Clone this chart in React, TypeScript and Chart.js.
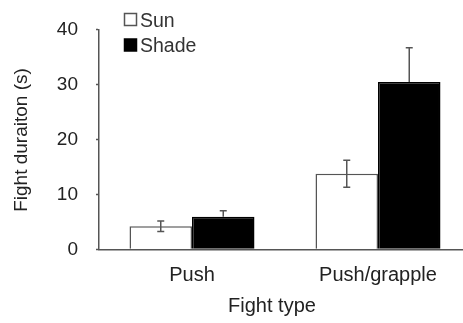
import React, { useEffect, useRef } from "react";
import { Chart, registerables } from "chart.js";

Chart.register(...registerables);

const categories = ["Push", "Push/grapple"];
const seriesNames = ["Sun", "Shade"];
const sunValues = [4.2, 13.75];
const sunErrors = [0.95, 2.45];
const shadeValues = [5.9, 30.45];
const shadeErrors = [1.1, 6.2];
const yTickValues = [0, 10, 20, 30, 40];
const xTitle = "Fight type";
const yTitle = "Fight duraiton (s)";

const FONT = "'Liberation Sans', Arial, Helvetica, sans-serif";
const AXIS_GRAY = "#555555";

const widenXPlugin = {
  id: "widenX",
  afterLayout(chart: any) {
    const x = chart.scales.x;
    x.right = x.left + 372;
    x.width = 372;
    x.configure();
  },
};

const errorBarPlugin = {
  id: "errorBars",
  afterDatasetsDraw(chart: any) {
    const ctx = chart.ctx;
    const y = chart.scales.y;
    chart.data.datasets.forEach((ds: any, di: number) => {
      const meta = chart.getDatasetMeta(di);
      meta.data.forEach((bar: any, i: number) => {
        const v = ds.data[i];
        const e = ds.errors[i];
        const top = y.getPixelForValue(v + e);
        const mid = y.getPixelForValue(v);
        const bot = y.getPixelForValue(v - e);
        const cap = 3.5;
        ctx.save();
        ctx.strokeStyle = AXIS_GRAY;
        ctx.lineWidth = 1.5;
        ctx.beginPath();
        ctx.moveTo(bar.x, mid);
        ctx.lineTo(bar.x, top);
        ctx.moveTo(bar.x - cap, top);
        ctx.lineTo(bar.x + cap, top);
        if (ds.showLowerError) {
          ctx.moveTo(bar.x, mid);
          ctx.lineTo(bar.x, bot);
          ctx.moveTo(bar.x - cap, bot);
          ctx.lineTo(bar.x + cap, bot);
        }
        ctx.stroke();
        ctx.restore();
      });
    });
  },
};

const legendAndTitlesPlugin = {
  id: "legendAndTitles",
  afterDraw(chart: any) {
    const ctx = chart.ctx;
    ctx.save();
    const boxX = 124.5;
    const boxSize = 12;
    const rows = [13.5, 39];
    chart.data.datasets.forEach((ds: any, i: number) => {
      const by = rows[i];
      ctx.fillStyle = ds.backgroundColor;
      ctx.fillRect(boxX, by, boxSize, boxSize);
      ctx.strokeStyle = ds.borderColor;
      ctx.lineWidth = 1.5;
      ctx.strokeRect(boxX, by, boxSize, boxSize);
      ctx.fillStyle = "#333333";
      ctx.font = `19.5px ${FONT}`;
      ctx.textAlign = "left";
      ctx.textBaseline = "alphabetic";
      ctx.fillText(ds.label, 140, by + 13.2);
    });
    ctx.fillStyle = "#222222";
    ctx.font = `20px ${FONT}`;
    ctx.textAlign = "center";
    ctx.textBaseline = "alphabetic";
    ctx.fillText(xTitle, 272, 311.5);
    ctx.translate(22, 140);
    ctx.rotate(-Math.PI / 2);
    ctx.font = `19px ${FONT}`;
    ctx.textAlign = "center";
    ctx.textBaseline = "middle";
    ctx.fillText(yTitle, 0, 0);
    ctx.restore();
  },
};

function BarChart() {
  const ref = useRef<HTMLCanvasElement | null>(null);
  useEffect(() => {
    if (!ref.current) return;
    const chart = new Chart(ref.current, {
      type: "bar",
      data: {
        labels: categories,
        datasets: [
          {
            label: seriesNames[0],
            data: sunValues,
            errors: sunErrors,
            showLowerError: true,
            backgroundColor: "#ffffff",
            borderColor: AXIS_GRAY,
            borderWidth: 1.5,
          } as any,
          {
            label: seriesNames[1],
            data: shadeValues,
            errors: shadeErrors,
            showLowerError: false,
            backgroundColor: "#000000",
            borderColor: "#000000",
            borderWidth: 1.5,
          } as any,
        ],
      },
      options: {
        responsive: false,
        animation: false,
        devicePixelRatio: 1,
        layout: { padding: { top: 16.7, left: 0, right: 0, bottom: 0 } },
        datasets: {
          bar: { categoryPercentage: 0.672, barPercentage: 1 },
        },
        plugins: {
          legend: { display: false },
          tooltip: { enabled: false },
          title: { display: false },
        },
        scales: {
          x: {
            type: "category",
            grid: { display: true, drawOnChartArea: false, drawTicks: false },
            border: { display: true, color: AXIS_GRAY, width: 1.5 },
            ticks: {
              color: "#222222",
              font: { family: FONT, size: 20 },
              padding: 14,
            },
            afterFit(scale: any) {
              scale.height = 323 - 249.3;
            },
          },
          y: {
            min: 0,
            max: 40,
            afterBuildTicks(scale: any) {
              scale.ticks = yTickValues.map((v) => ({ value: v }));
            },
            grid: {
              display: true,
              drawOnChartArea: false,
              drawTicks: true,
              tickLength: 3,
              tickColor: AXIS_GRAY,
              tickWidth: 1.5,
            },
            border: { display: true, color: AXIS_GRAY, width: 1.5 },
            ticks: {
              color: "#222222",
              font: { family: FONT, size: 19 },
              padding: 18,
            },
            afterFit(scale: any) {
              scale.width = 99;
            },
          },
        },
      },
      plugins: [widenXPlugin, errorBarPlugin, legendAndTitlesPlugin],
    } as any);
    return () => chart.destroy();
  }, []);
  return <canvas ref={ref} width={463} height={323} />;
}

export default function App() {
  return (
    <div style={{ position: "fixed", left: 0, top: 0, width: 463, height: 323, background: "#fff" }}>
      <BarChart />
    </div>
  );
}
